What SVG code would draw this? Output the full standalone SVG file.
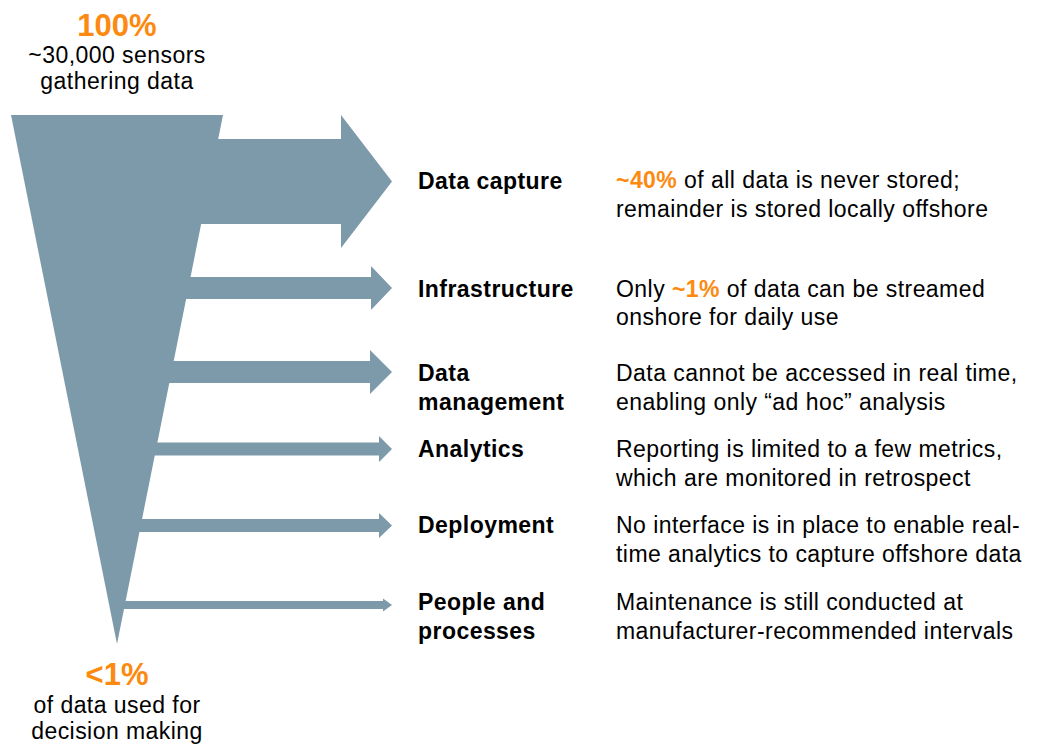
<svg xmlns="http://www.w3.org/2000/svg" width="1038" height="749" viewBox="0 0 1038 749">
<style>
.shape{fill:#7d9aab}
text{font-family:"Liberation Sans",Arial,sans-serif;fill:#000}
.t{font-size:23px;letter-spacing:0.45px}
.b{font-weight:bold}
.big{font-size:31px;font-weight:bold;fill:#fd8a10}
.o{fill:#fd8a10;font-weight:bold}
.c{text-anchor:middle}
</style>
<rect width="1038" height="749" fill="#fff"/>
<g id="funnel">
<polygon class="shape" points="11,115 223,115 117,644"/>
</g>
<g id="connectors">
<polygon class="shape" points="150,139 341,139 341,115 392,181.5 341,248 341,224 150,224"/>
<polygon class="shape" points="150,277 371,277 371,266 392,288 371,310 371,299 150,299"/>
<polygon class="shape" points="150,361 370,361 370,350 392,372 370,394 370,383 150,383"/>
<polygon class="shape" points="130,442.5 379,442.5 379,436 392,449 379,462 379,455.5 130,455.5"/>
<polygon class="shape" points="125,519 379,519 379,513 392,525.5 379,538 379,532 125,532"/>
<polygon class="shape" points="120,601 383,601 383,598.5 392,605 383,611.5 383,609 120,609"/>
</g>
<g id="top-label">
<text class="big c" x="117" y="36">100%</text>
<text class="t c" x="117" y="63">~30,000 sensors</text>
<text class="t c" x="117" y="89">gathering data</text>
</g>
<g id="bottom-label">
<text class="big c" x="117" y="685">&lt;1%</text>
<text class="t c" x="117" y="713">of data used for</text>
<text class="t c" x="117" y="739">decision making</text>
</g>
<g id="data-capture">
<text class="t b" x="418" y="189">Data capture</text>
<text class="t" x="616" y="188"><tspan class="o">~40%</tspan> of all data is never stored;</text>
<text class="t" x="616" y="217">remainder is stored locally offshore</text>
</g>
<g id="infrastructure">
<text class="t b" x="418" y="297">Infrastructure</text>
<text class="t" x="616" y="297">Only <tspan class="o">~1%</tspan> of data can be streamed</text>
<text class="t" x="616" y="325">onshore for daily use</text>
</g>
<g id="data-management">
<text class="t b" x="418" y="381">Data</text>
<text class="t b" x="418" y="410">management</text>
<text class="t" x="616" y="381">Data cannot be accessed in real time,</text>
<text class="t" x="616" y="410">enabling only “ad hoc” analysis</text>
</g>
<g id="analytics">
<text class="t b" x="418" y="457">Analytics</text>
<text class="t" x="616" y="457">Reporting is limited to a few metrics,</text>
<text class="t" x="616" y="486">which are monitored in retrospect</text>
</g>
<g id="deployment">
<text class="t b" x="418" y="533">Deployment</text>
<text class="t" x="616" y="533">No interface is in place to enable real-</text>
<text class="t" x="616" y="562">time analytics to capture offshore data</text>
</g>
<g id="people">
<text class="t b" x="418" y="610">People and</text>
<text class="t b" x="418" y="639">processes</text>
<text class="t" x="616" y="610">Maintenance is still conducted at</text>
<text class="t" x="616" y="639">manufacturer-recommended intervals</text>
</g>
</svg>
